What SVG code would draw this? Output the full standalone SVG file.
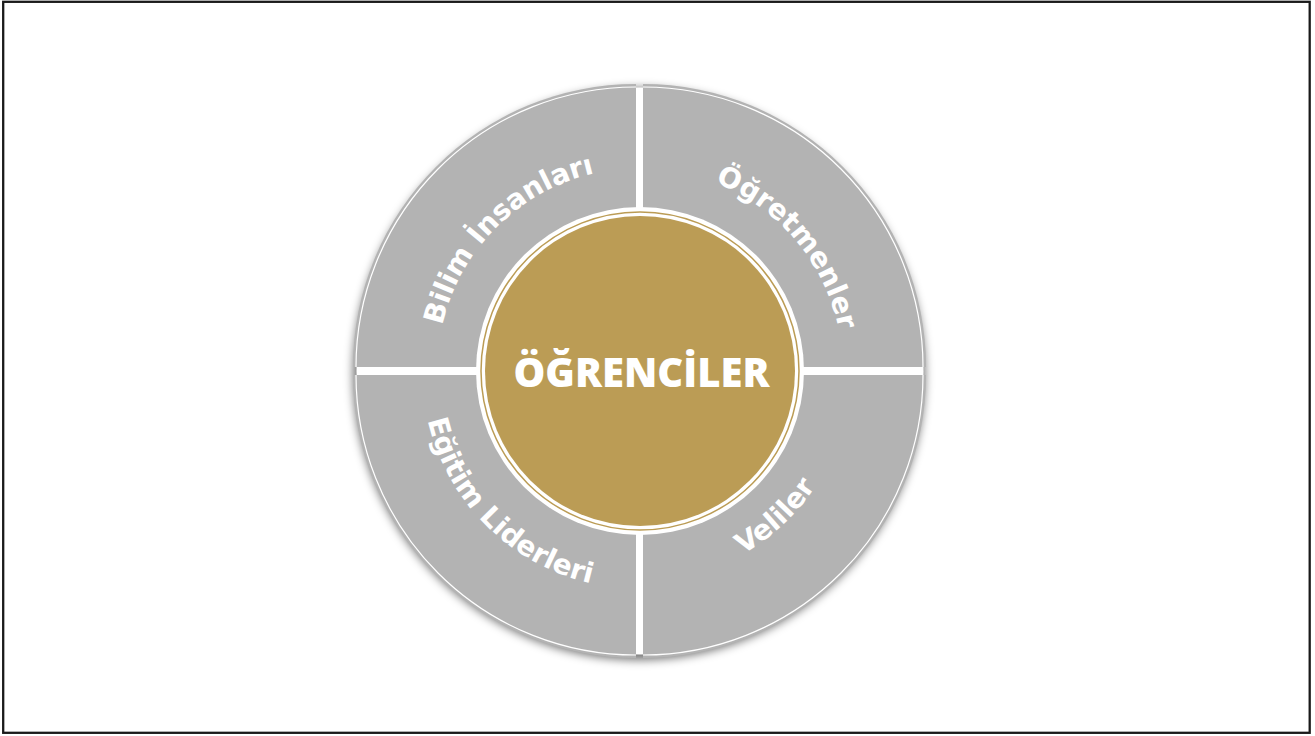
<svg xmlns="http://www.w3.org/2000/svg" width="1315" height="736" viewBox="0 0 1315 736">
<style>
.sec{fill:#b3b3b3;}
.rim{fill:none;stroke:#ffffff;stroke-width:1.2;}
.lbl{font-family:"DejaVu Sans",sans-serif;font-weight:bold;font-size:28px;fill:#ffffff;}
.ctr{font-family:"Open Sans",sans-serif;font-weight:800;font-size:40px;fill:#ffffff;}
</style>
<defs>
<filter id="sh" x="-20%" y="-20%" width="140%" height="140%">
<feGaussianBlur stdDeviation="5"/>
</filter>
<path id="pTL" d="M437,371 A203,203 0 0 1 640,168"/>
<path id="pTR" d="M657.69,168.77 A203,203 0 0 1 842.23,388.69"/>
<path id="pBL" d="M422,371 A218,218 0 0 0 640,589"/>
<path id="pBR" d="M632.67,580.87 A210,210 0 0 0 849.87,378.33"/>
</defs>
<rect x="0" y="0" width="1315" height="736" fill="#ffffff"/>
<rect x="3.2" y="1.8" width="1306.5" height="731" fill="none" stroke="#1a1a1a" stroke-width="2.3"/>
<circle cx="639" cy="374" r="286" fill="#000000" fill-opacity="0.55" filter="url(#sh)"/>
<circle cx="640" cy="371" r="283.5" fill="#ffffff"/>
<g id="bilim-insanlari">
<path class="sec" d="M636,367 L353,367 A283,283 0 0 1 636,84 Z"/>
<path class="rim" d="M356,367 A280,280 0 0 1 636,87"/>
<text class="lbl"><textPath href="#pTL" startOffset="50%" text-anchor="middle">Bilim İnsanları</textPath></text>
</g>
<g id="ogretmenler">
<path class="sec" d="M643,367 L643,84 A283,283 0 0 1 926,367 Z"/>
<path class="rim" d="M643,87 A280,280 0 0 1 923,367"/>
<text class="lbl"><textPath href="#pTR" startOffset="50%" text-anchor="middle">Öğretmenler</textPath></text>
</g>
<g id="veliler">
<path class="sec" d="M643,375 L926,375 A283,283 0 0 1 643,658 Z"/>
<path class="rim" d="M923,375 A280,280 0 0 1 643,655"/>
<text class="lbl"><textPath href="#pBR" startOffset="50%" text-anchor="middle">Veliler</textPath></text>
</g>
<g id="egitim-liderleri">
<path class="sec" d="M636,375 L636,658 A283,283 0 0 1 353,375 Z"/>
<path class="rim" d="M636,655 A280,280 0 0 1 356,375"/>
<text class="lbl"><textPath href="#pBL" startOffset="50%" text-anchor="middle">Eğitim Liderleri</textPath></text>
</g>
<g id="ogrenciler">
<circle cx="640" cy="371" r="164" fill="#ffffff"/>
<circle cx="640" cy="371" r="159" fill="none" stroke="#bb9c55" stroke-width="1.5"/>
<circle cx="640" cy="371" r="155" fill="#bb9c55"/>
<text class="ctr" x="641.5" y="387" text-anchor="middle">ÖĞRENCİLER</text>
</g>
<g id="connectors"></g>
</svg>
